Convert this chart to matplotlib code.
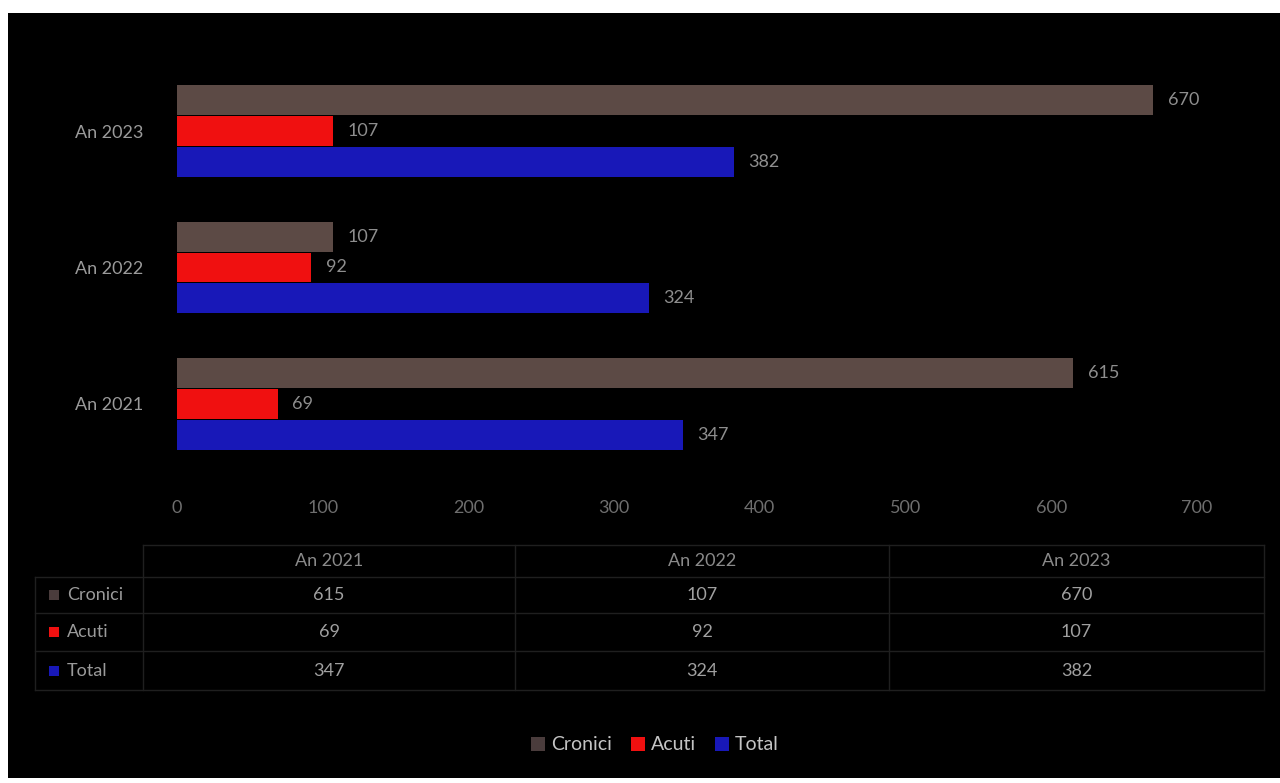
import matplotlib
matplotlib.use("Agg")
import matplotlib.pyplot as plt
from matplotlib.patches import Rectangle
import numpy as np

plt.rcParams['font.family'] = ['Lato', 'DejaVu Sans']

# data
years = ["An 2021", "An 2022", "An 2023"]
series = ["Cronici", "Acuti", "Total"]
cronici = [615, 107, 670]
acuti = [69, 92, 107]
total = [347, 324, 382]
colors = ["#5c4a45", "#f01010", "#1818b8"]
key_colors = ["#4a3c3c", "#f01010", "#1818b8"]

W, H = 1280, 783
fig = plt.figure(figsize=(W / 100, H / 100), dpi=100, facecolor="white")
# black scanned page area
fig.patches.append(Rectangle((8 / W, 5 / H), 1, (H - 5 - 13) / H, transform=fig.transFigure,
                             facecolor="black", edgecolor="none", zorder=-5))

# bar chart
ax = fig.add_axes([177 / W, 1 - 472 / H, (1197 - 177) / W, (472 - 63) / H])
ax.set_facecolor("none")
y = np.arange(len(years))
h = 0.22
offs = [0.225, 0.0, -0.225]
for vals, off, c in zip([cronici, acuti, total], offs, colors):
    bars = ax.barh(y + off, vals, height=h, color=c, edgecolor="none")
    for b, v in zip(bars, vals):
        ax.text(v + 10, b.get_y() + b.get_height() / 2, str(v), color="#8e8e8e",
                fontsize=13, va="center", ha="left")

ax.set_xlim(0, 700)
ax.set_ylim(-0.5, 2.5)
ax.set_xticks(np.arange(0, 701, 100))
ax.set_yticks(y)
ax.set_yticklabels(years)
ax.tick_params(axis="x", colors="#6e6e6e", labelsize=13, length=0, pad=20)
ax.tick_params(axis="y", colors="#9a9a9a", labelsize=13, length=0, pad=24)
for s in ax.spines.values():
    s.set_visible(False)

# data table
at = fig.add_axes([30 / W, 1 - 692 / H, (1266 - 30) / W, (692 - 543) / H])
at.set_xlim(30, 1266)
at.set_ylim(692, 543)
at.axis("off")
col_edges = [143, 515, 889, 1264]
row_edges = [545, 577, 613, 651, 690]
line_c = "#1f1f1f"
at.plot([col_edges[0], col_edges[-1]], [row_edges[0]] * 2, color=line_c, lw=1)
for r in row_edges[1:]:
    at.plot([35, col_edges[-1]], [r, r], color=line_c, lw=1)
for cx in col_edges:
    at.plot([cx, cx], [row_edges[0], row_edges[-1]], color=line_c, lw=1)
at.plot([35, 35], [row_edges[1], row_edges[-1]], color=line_c, lw=1)

for j, yr in enumerate(years):
    cx = (col_edges[j] + col_edges[j + 1]) / 2
    at.text(cx, (row_edges[0] + row_edges[1]) / 2, yr, color="#8a8a8a", fontsize=13,
            ha="center", va="center")
for i, (name, vals) in enumerate(zip(series, [cronici, acuti, total])):
    ry = (row_edges[i + 1] + row_edges[i + 2]) / 2
    at.add_patch(Rectangle((49, ry - 5), 10, 10, facecolor=key_colors[i], edgecolor="none"))
    at.text(67, ry, name, color="#9a9a9a", fontsize=13, ha="left", va="center")
    for j, v in enumerate(vals):
        cx = (col_edges[j] + col_edges[j + 1]) / 2
        at.text(cx, ry, str(v), color="#a0a0a0", fontsize=13, ha="center", va="center")

# legend
handles = [Rectangle((0, 0), 1, 1, facecolor=c, edgecolor="none") for c in key_colors]
leg = fig.legend(handles, series, loc="center", bbox_to_anchor=(655 / W, 1 - 745 / H),
                 ncol=3, frameon=False, fontsize=14, handlelength=0.7, handleheight=0.7,
                 handletextpad=0.3, columnspacing=1.0)
for t in leg.get_texts():
    t.set_color("#c4c4c4")

fig.savefig("out.png", dpi=100, facecolor=fig.get_facecolor())
